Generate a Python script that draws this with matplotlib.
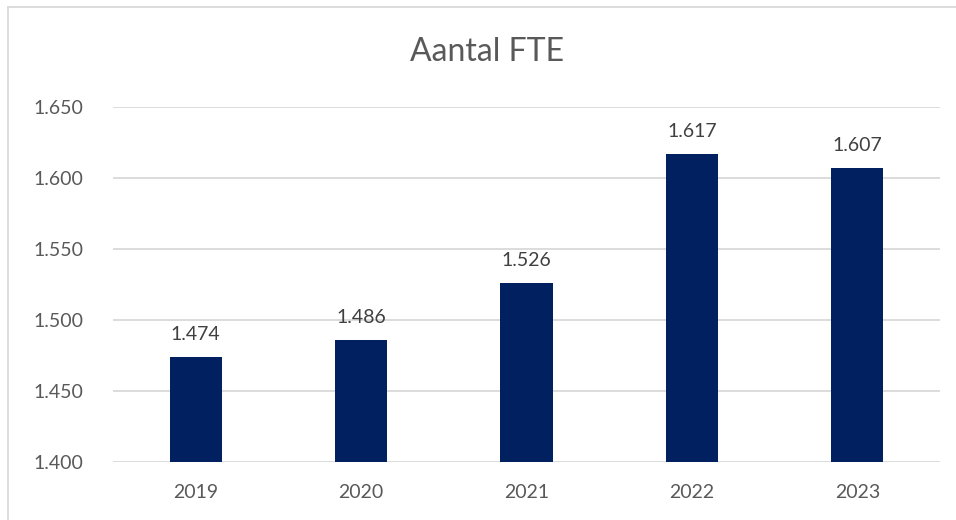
import matplotlib.pyplot as plt
from matplotlib.lines import Line2D
from matplotlib.ticker import FuncFormatter

years = ['2019', '2020', '2021', '2022', '2023']
fte = [1474, 1486, 1526, 1617, 1607]
y_ticks = [1400, 1450, 1500, 1550, 1600, 1650]


def dutch(v, pos=None):
    return f'{int(round(v)):,}'.replace(',', '.')


plt.rcParams['font.family'] = ['Lato', 'DejaVu Sans']
text_color = '#595959'
grid_color = '#d9d9d9'

fig = plt.figure(figsize=(9.56, 5.2), dpi=100)
ax = fig.add_axes([113 / 956, 1 - 462 / 520, (940 - 113) / 956, (462 - 107) / 520])

bars = ax.bar(years, fte, width=0.315, color='#002060', zorder=3)
for rect, v in zip(bars, fte):
    ax.text(rect.get_x() + rect.get_width() / 2, v + 10, dutch(v),
            ha='center', va='bottom', fontsize=14, color='#404040')

ax.set_ylim(1400, 1650)
ax.set_xlim(-0.5, len(years) - 0.5)
ax.set_yticks(y_ticks)
ax.yaxis.set_major_formatter(FuncFormatter(dutch))
ax.grid(axis='y', color=grid_color, linewidth=1.3, zorder=0)
for s in ax.spines.values():
    s.set_visible(False)
ax.tick_params(axis='both', length=0, labelsize=14, labelcolor=text_color)
ax.tick_params(axis='y', pad=21)
ax.tick_params(axis='x', pad=16)

fig.text(487 / 956, 1 - 52 / 520, 'Aantal FTE', ha='center', va='center',
         fontsize=23, color=text_color)

# chart border (only top and left visible)
fig.add_artist(Line2D([8 / 956, 1], [1 - 7 / 520, 1 - 7 / 520],
                      transform=fig.transFigure, color=grid_color, linewidth=1.3))
fig.add_artist(Line2D([8 / 956, 8 / 956], [0, 1 - 7 / 520],
                      transform=fig.transFigure, color=grid_color, linewidth=1.3))

fig.savefig('out.png', dpi=100)
